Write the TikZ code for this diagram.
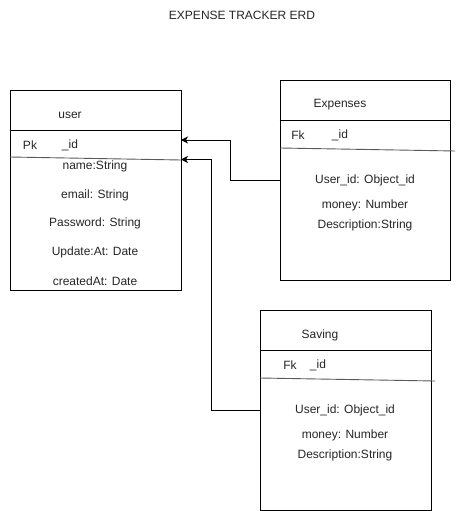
\documentclass[tikz,border=0pt]{standalone}
\usepackage{fontspec}
\setmainfont{Liberation Sans}
\usetikzlibrary{arrows.meta}
\begin{document}
\begin{tikzpicture}[x=1pt,y=-1pt,
  box/.style={draw=black, line width=0.8pt, inner sep=0pt},
  lbl/.style={font=\fontsize{12}{14}\selectfont, text=black!85, inner sep=0pt},
  sepline/.style={draw=black!65, line width=0.9pt},
  divline/.style={draw=black, line width=0.8pt},
  conn/.style={draw=black, line width=0.8pt, -{Stealth[length=7pt,width=7pt,inset=2pt]}}]
\useasboundingbox[fill=white] (0,0) rectangle (457,511);

% title
\node[lbl] (title) at (242,15) {EXPENSE TRACKER ERD};

% user entity
\node[box, minimum width=171pt, minimum height=200pt] (user) at (95.5,190) {};
\draw[divline] (user.west |- 0,130) -- (user.east |- 0,130);
\draw[sepline] (10,157) -- (181,160);
\node[lbl] (uname) at (70,115) {user};
\node[lbl] (upk) at (30,145) {Pk};
\node[lbl] (uid) at (70,145) {\_id};
\node[lbl] (u1) at (95,166) {name:String};
\node[lbl] (u2) at (95,195) {email: String};
\node[lbl] (u3) at (95,223) {Password: String};
\node[lbl] (u4) at (95,252) {Update:At: Date};
\node[lbl] (u5) at (95,281) {createdAt: Date};
\coordinate (uin1) at (181,140);
\coordinate (uin2) at (181,159.5);

% Expenses entity
\node[box, minimum width=170pt, minimum height=200pt] (exp) at (365,180) {};
\draw[divline] (exp.west |- 0,120) -- (exp.east |- 0,120);
\draw[sepline] (280,148) -- (455,151);
\node[lbl] (ename) at (340,105) {Expenses};
\node[lbl] (efk) at (298,135) {Fk};
\node[lbl] (eid) at (340,135) {\_id};
\node[lbl] (e1) at (365,180) {User\_id: Object\_id};
\node[lbl] (e2) at (365,205) {money: Number};
\node[lbl] (e3) at (365,225) {Description:String};

% Saving entity
\node[box, minimum width=171pt, minimum height=200pt] (sav) at (345.5,410.5) {};
\draw[divline] (sav.west |- 0,350.5) -- (sav.east |- 0,350.5);
\draw[sepline] (260,378) -- (435,381);
\node[lbl] (sname) at (320,335) {Saving};
\node[lbl] (sfk) at (290,365) {Fk};
\node[lbl] (sid) at (318,365) {\_id};
\node[lbl] (s1) at (345,410) {User\_id: Object\_id};
\node[lbl] (s2) at (345,435) {money: Number};
\node[lbl] (s3) at (345,455) {Description:String};

% connectors
\draw[conn] (exp.west |- e1) -- (230,180) |- (uin1);
\draw[conn] (sav.west |- s1) -- (211,410) |- (uin2);
\end{tikzpicture}
\end{document}
